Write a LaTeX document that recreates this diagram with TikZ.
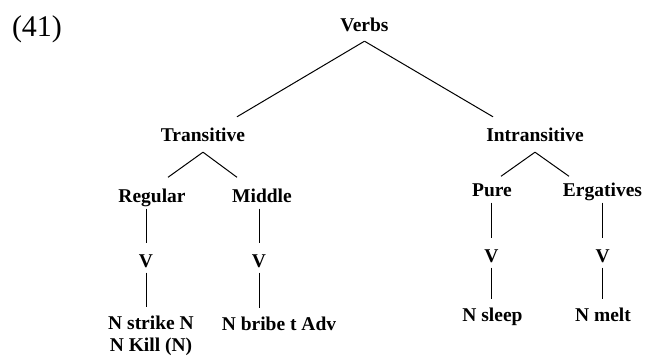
\documentclass[tikz,border=0pt]{standalone}
\usepackage{fontspec}
\setmainfont{Liberation Serif}
\usetikzlibrary{positioning,calc}
\tikzset{
  catlbl/.style={font=\bfseries\fontsize{19.5}{22}\selectfont,inner sep=0pt,text height=13pt,text depth=0pt,anchor=base,align=center},
  numlbl/.style={font=\fontsize{30}{36}\selectfont,inner sep=0pt,anchor=base},
  branch/.style={line width=1pt},
  stemup/.style={line width=1pt,shorten <=6pt,shorten >=11pt},
  stemdn/.style={line width=1pt,shorten <=5pt,shorten >=9pt}
}

\begin{document}
\begin{tikzpicture}[x=1pt,y=1pt]
  \useasboundingbox (0,0) rectangle (645,356);
  \node[numlbl] (num) at (37,319) {(41)};

  \node[catlbl] (verbs) at (364.5,324) {Verbs};
  \node[catlbl] (trans) at (203,214) {Transitive};
  \node[catlbl] (intrans) at (535,214) {Intransitive};

  \node[catlbl] (reg) at (152,153.5) {Regular};
  \node[catlbl] (mid) at (262,153.5) {Middle};
  \node[catlbl] (pure) at (492,159.5) {Pure};
  \node[catlbl] (erg) at (602.5,159.5) {Ergatives};

  \node[catlbl] (v1) at (146,88.5) {V};
  \node[catlbl] (v2) at (259,88.5) {V};
  \node[catlbl] (v3) at (491.5,93.5) {V};
  \node[catlbl] (v4) at (602.7,93.5) {V};

  \node[catlbl,text height=35pt] (strike) at (151,4.3) {N strike N\\N Kill (N)};
  \node[catlbl] (bribe) at (279,25.5) {N bribe t Adv};
  \node[catlbl] (sleep) at (492.5,34.5) {N sleep};
  \node[catlbl] (melt) at (603,34.5) {N melt};

  % top split
  \draw[branch] ([yshift=-9pt]verbs.south) -- ([xshift=34pt,yshift=12pt]trans.north);
  \draw[branch] ([yshift=-9pt]verbs.south) -- ([xshift=-42pt,yshift=12pt]intrans.north);
  \draw[branch] ([yshift=-10pt]trans.south) -- ([xshift=16pt,yshift=12pt]reg.north);
  \draw[branch] ([yshift=-10pt]trans.south) -- ([xshift=-25pt,yshift=12pt]mid.north);
  \draw[branch] ([yshift=-10pt]intrans.south) -- ([xshift=9pt,yshift=7pt]pure.north);
  \draw[branch] ([yshift=-10pt]intrans.south) -- ([xshift=-33.5pt,yshift=7pt]erg.north);

  % stems
  \draw[stemup] (v1 |- reg.south) -- (v1.north);
  \draw[stemup] (v2 |- mid.south) -- (v2.north);
  \draw[stemup] (v3 |- pure.south) -- (v3.north);
  \draw[stemup] (v4 |- erg.south) -- (v4.north);
  \draw[stemdn] (v1.south) -- (v1 |- strike.north);
  \draw[stemdn] (v2.south) -- (v2 |- bribe.north);
  \draw[stemdn] (v3.south) -- (v3 |- sleep.north);
  \draw[stemdn] (v4.south) -- (v4 |- melt.north);
\end{tikzpicture}
\end{document}
